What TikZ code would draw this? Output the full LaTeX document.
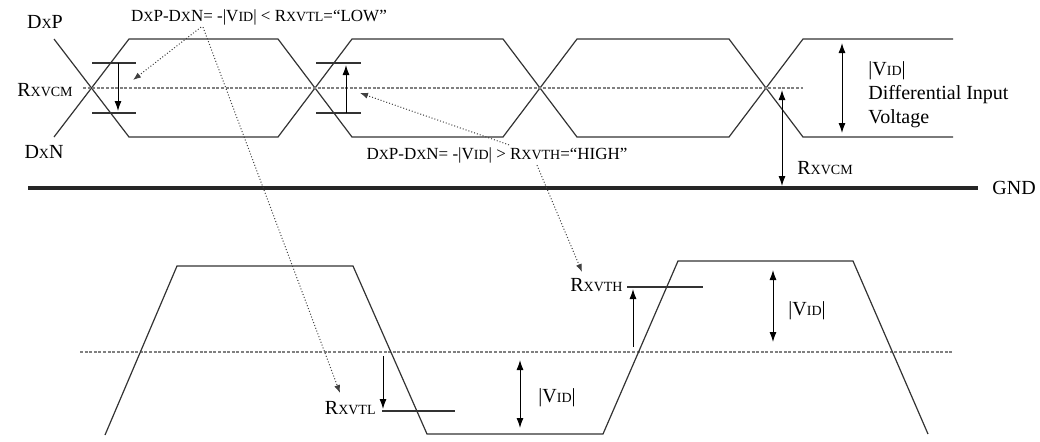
\documentclass[tikz,border=0pt]{standalone}
\usepackage{fontspec}
\setmainfont{Liberation Serif}
\usetikzlibrary{arrows.meta}
\newcommand{\sm}[1]{{\fontsize{7}{8}\selectfont #1}}
\tikzset{
  sig/.style={line width=0.6pt, black!80},
  mid/.style={gray, line width=0.8pt, dash pattern=on 1.5pt off 0.8pt},
  bar/.style={line width=0.6pt, black!80},
  tip/.style={-{Latex[length=5pt,width=3.5pt]}, line width=0.5pt},
  both/.style={{Latex[length=5pt,width=3.5pt]}-{Latex[length=5pt,width=3.5pt]}, line width=0.5pt},
  note/.style={-{Latex[length=4pt,width=3pt]}, densely dotted, line width=0.5pt, black!75},
  lbl/.style={font=\fontsize{10}{12}\selectfont, inner sep=1pt},
  cond/.style={font=\fontsize{8.5}{10}\selectfont, inner sep=1pt}
}
\begin{document}
\begin{tikzpicture}[x=0.5pt,y=-0.5pt]
\useasboundingbox (0,0) rectangle (1040,441);
% differential pair
\draw[sig] (54,39) -- (129,137) -- (278,137) -- (352,39) -- (503,39) -- (577,137) -- (729,137) -- (803,39) -- (953,39);
\draw[sig] (54,137) -- (129,39) -- (278,39) -- (352,137) -- (503,137) -- (577,39) -- (729,39) -- (803,137) -- (953,137);
\draw[mid] (83,88) -- (803,88);
\node[lbl] (dxp) at (45,22) {D\sm{X}P};
\node[lbl] (dxn) at (44,152) {D\sm{X}N};
\node[lbl] (vcml) at (45,90) {R\sm{XVCM}};
% thresholds at the crossings
\draw[bar] (92,63) -- (136,63);
\draw[bar] (92,113) -- (136,113);
\draw[tip] (118,63) -- (118,111);
\draw[bar] (316,63) -- (361,63);
\draw[bar] (316,113) -- (361,113);
\draw[tip] (346,113) -- (346,65);
% ground
\draw[line width=2pt, black!85] (28,188) -- (978,188);
\node[lbl, anchor=west] (gnd) at (990,188) {GND};
\draw[both] (842,43) -- (842,133);
\node[lbl, anchor=west, align=left] (vid) at (866,95) {|V\sm{ID}|\\Differential Input\\Voltage};
\draw[both] (782,90) -- (782,186);
\node[lbl, anchor=west] (vcmr) at (795,168) {R\sm{XVCM}};
% receiver output
\draw[mid] (80,352) -- (953,352);
\draw[sig] (105,435) -- (177,266) -- (353,266) -- (427,434) -- (603,434) -- (678,261) -- (853,261) -- (928,434);
\draw[bar] (382,411) -- (455,411);
\node[lbl, anchor=east] (vtl) at (378,408) {R\sm{XVTL}};
\draw[tip] (383,356) -- (383,409);
\draw[both] (520,360) -- (520,428);
\node[lbl, anchor=west] (vidl) at (536,398) {|V\sm{ID}|};
\draw[bar] (627,287) -- (703,287);
\node[lbl, anchor=east] (vth) at (625,285) {R\sm{XVTH}};
\draw[tip] (633,347) -- (633,289);
\draw[both] (773,270) -- (773,342);
\node[lbl, anchor=west] (vidh) at (786,311) {|V\sm{ID}|};
% conditions
\node[cond] (low) at (259,17) {D\sm{X}P-D\sm{X}N= -|V\sm{ID}| < R\sm{XVTL}=``LOW''};
\node[cond] (high) at (497,155) {D\sm{X}P-D\sm{X}N= -|V\sm{ID}| > R\sm{XVTH}=``HIGH''};
\coordinate (lowx) at (133,80);
\coordinate (lowt) at (340,393);
\coordinate (highx) at (360,93);
\coordinate (hight) at (582,272);
\draw[note] ([xshift=-29pt]low.south) -- (lowx);
\draw[note] ([xshift=-28pt]low.south) -- (lowt);
\draw[note] ([xshift=6pt]high.north) -- (highx);
\draw[note] ([xshift=20pt]high.south) -- (hight);
\end{tikzpicture}
\end{document}
